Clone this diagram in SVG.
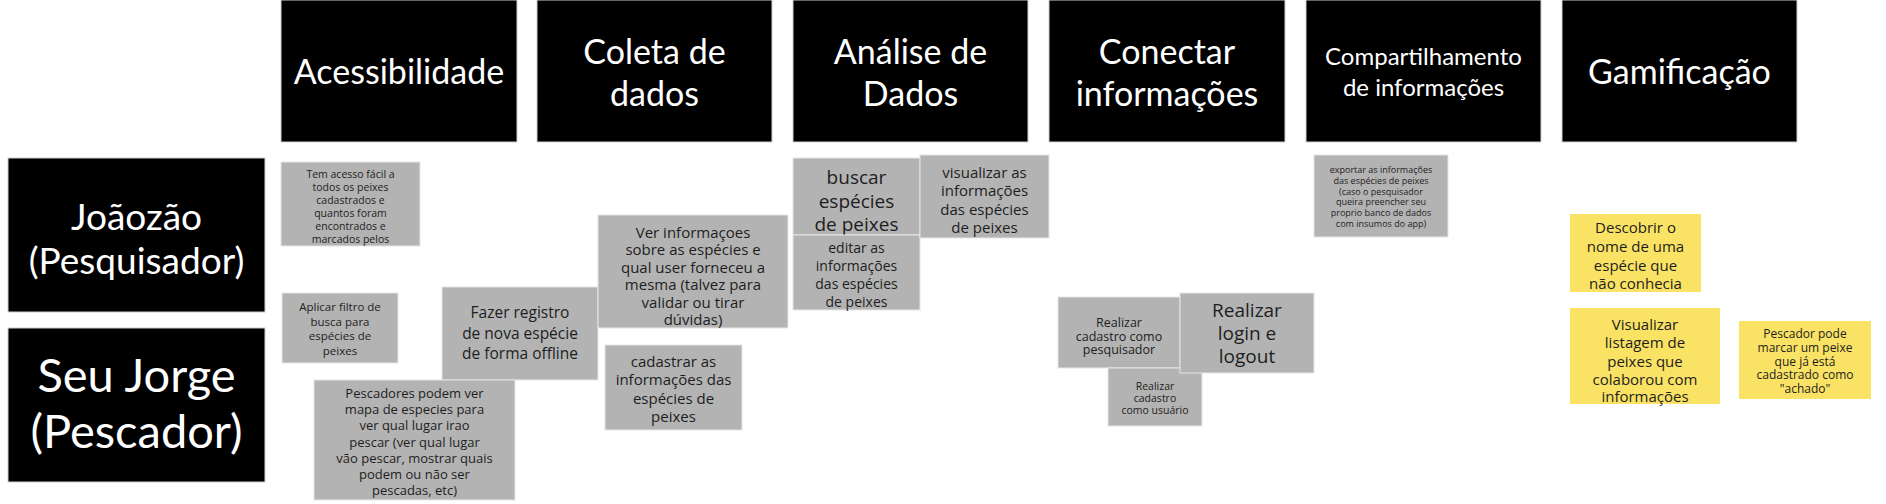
<svg xmlns="http://www.w3.org/2000/svg" width="1886" height="504" viewBox="0 0 1886 504">
<style>
.hdr{fill:#000;stroke:#d0d0d0;stroke-width:1}
.ht{fill:#fff;font-family:Lato,"Open Sans",sans-serif;text-anchor:middle}
.g{fill:#b3b3b3;stroke:#e6e6e6;stroke-width:1}
.y{fill:#f9e264}
.st{fill:#1e1e1e;font-family:"Open Sans","DejaVu Sans",sans-serif;text-anchor:middle}
</style>
<rect width="1886" height="504" fill="#fff"/>
<g id="h-acessibilidade"><rect class="hdr" x="281" y="0" width="236" height="142"/><text class="ht" x="399" y="84" font-size="34">Acessibilidade</text></g>
<g id="h-coleta"><rect class="hdr" x="537" y="0" width="235" height="142"/><text class="ht" x="654.5" y="64" font-size="34">Coleta de</text><text class="ht" x="654.5" y="106" font-size="34">dados</text></g>
<g id="h-analise"><rect class="hdr" x="793" y="0" width="235" height="142"/><text class="ht" x="910.5" y="64" font-size="34">Análise de</text><text class="ht" x="910.5" y="106" font-size="34">Dados</text></g>
<g id="h-conectar"><rect class="hdr" x="1049" y="0" width="236" height="142"/><text class="ht" x="1167" y="64" font-size="34">Conectar</text><text class="ht" x="1167" y="106" font-size="34">informações</text></g>
<g id="h-compartilhamento"><rect class="hdr" x="1306" y="0" width="235" height="142"/><text class="ht" x="1423.5" y="65" font-size="24">Compartilhamento</text><text class="ht" x="1423.5" y="96" font-size="24">de informações</text></g>
<g id="h-gamificacao"><rect class="hdr" x="1562" y="0" width="235" height="142"/><text class="ht" x="1679.5" y="84" font-size="34">Gamificação</text></g>
<g id="r-joaozao"><rect class="hdr" x="8" y="158" width="257" height="154"/><text class="ht" x="136.5" y="230" font-size="37">Joãozão</text><text class="ht" x="136.5" y="274" font-size="37">(Pesquisador)</text></g>
<g id="r-seujorge"><rect class="hdr" x="8" y="328" width="257" height="154"/><text class="ht" x="136.5" y="392" font-size="47">Seu Jorge</text><text class="ht" x="136.5" y="448" font-size="47">(Pescador)</text></g>
<g id="connectors"></g>
<g id="n-tem-acesso"><rect class="g" x="281" y="162" width="139" height="84"/><text class="st" font-size="10.5"><tspan x="350.5" y="178">Tem acesso fácil a</tspan><tspan x="350.5" y="191">todos os peixes</tspan><tspan x="350.5" y="204">cadastrados e</tspan><tspan x="350.5" y="217">quantos foram</tspan><tspan x="350.5" y="230">encontrados e</tspan><tspan x="350.5" y="243">marcados pelos</tspan></text></g>
<g id="n-aplicar-filtro"><rect class="g" x="282" y="293" width="116" height="70"/><text class="st" font-size="11.5"><tspan x="340" y="311">Aplicar filtro de</tspan><tspan x="340" y="325.5">busca para</tspan><tspan x="340" y="340">espécies de</tspan><tspan x="340" y="354.5">peixes</tspan></text></g>
<g id="n-fazer-registro"><rect class="g" x="442" y="287" width="156" height="93"/><text class="st" font-size="15.5"><tspan x="520" y="318">Fazer registro</tspan><tspan x="520" y="338.5">de nova espécie</tspan><tspan x="520" y="359">de forma offline</tspan></text></g>
<g id="n-pescadores"><rect class="g" x="314" y="380" width="201" height="120"/><text class="st" font-size="13"><tspan x="414.5" y="398">Pescadores podem ver</tspan><tspan x="414.5" y="414.2">mapa de especies para</tspan><tspan x="414.5" y="430.4">ver qual lugar irao</tspan><tspan x="414.5" y="446.6">pescar (ver qual lugar</tspan><tspan x="414.5" y="462.8">vão pescar, mostrar quais</tspan><tspan x="414.5" y="479">podem ou não ser</tspan><tspan x="414.5" y="495.2">pescadas, etc)</tspan></text></g>
<g id="n-ver-informacoes"><rect class="g" x="598" y="215" width="190" height="113"/><text class="st" font-size="15"><tspan x="693" y="238">Ver informaçoes</tspan><tspan x="693" y="255.4">sobre as espécies e</tspan><tspan x="693" y="272.8">qual user forneceu a</tspan><tspan x="693" y="290.2">mesma (talvez para</tspan><tspan x="693" y="307.6">validar ou tirar</tspan><tspan x="693" y="325">dúvidas)</tspan></text></g>
<g id="n-cadastrar"><rect class="g" x="605" y="345" width="137" height="85"/><text class="st" font-size="15"><tspan x="673.5" y="367">cadastrar as</tspan><tspan x="673.5" y="385.3">informações das</tspan><tspan x="673.5" y="403.6">espécies de</tspan><tspan x="673.5" y="422">peixes</tspan></text></g>
<g id="n-buscar"><rect class="g" x="793" y="158" width="127" height="77"/><text class="st" font-size="19"><tspan x="856.5" y="184">buscar</tspan><tspan x="856.5" y="207.5">espécies</tspan><tspan x="856.5" y="231">de peixes</tspan></text></g>
<g id="n-editar"><rect class="g" x="793" y="235" width="127" height="75"/><text class="st" font-size="14"><tspan x="856.5" y="253">editar as</tspan><tspan x="856.5" y="271">informações</tspan><tspan x="856.5" y="289">das espécies</tspan><tspan x="856.5" y="307">de peixes</tspan></text></g>
<g id="n-visualizar"><rect class="g" x="920" y="155" width="129" height="83"/><text class="st" font-size="15"><tspan x="984.5" y="178">visualizar as</tspan><tspan x="984.5" y="196.3">informações</tspan><tspan x="984.5" y="214.6">das espécies</tspan><tspan x="984.5" y="233">de peixes</tspan></text></g>
<g id="n-cadastro-pesquisador"><rect class="g" x="1058" y="297" width="122" height="71"/><text class="st" font-size="12.5"><tspan x="1119" y="327">Realizar</tspan><tspan x="1119" y="340.5">cadastro como</tspan><tspan x="1119" y="354">pesquisador</tspan></text></g>
<g id="n-cadastro-usuario"><rect class="g" x="1108" y="368" width="94" height="58"/><text class="st" font-size="10.5"><tspan x="1155" y="390">Realizar</tspan><tspan x="1155" y="402">cadastro</tspan><tspan x="1155" y="414">como usuário</tspan></text></g>
<g id="n-login"><rect class="g" x="1180" y="293" width="134" height="80"/><text class="st" font-size="19"><tspan x="1247" y="317">Realizar</tspan><tspan x="1247" y="340">login e</tspan><tspan x="1247" y="363">logout</tspan></text></g>
<g id="n-exportar"><rect class="g" x="1314" y="155" width="134" height="82"/><text class="st" font-size="9"><tspan x="1381" y="173">exportar as informações</tspan><tspan x="1381" y="183.8">das espécies de peixes</tspan><tspan x="1381" y="194.6">(caso o pesquisador</tspan><tspan x="1381" y="205.4">queira preencher seu</tspan><tspan x="1381" y="216.2">proprio banco de dados</tspan><tspan x="1381" y="227">com insumos do app)</tspan></text></g>
<g id="n-descobrir"><rect class="y" x="1570" y="214" width="131" height="78"/><text class="st" font-size="15"><tspan x="1635.5" y="233">Descobrir o</tspan><tspan x="1635.5" y="252">nome de uma</tspan><tspan x="1635.5" y="271">espécie que</tspan><tspan x="1635.5" y="289">não conhecia</tspan></text></g>
<g id="n-visualizar-listagem"><rect class="y" x="1570" y="308" width="150" height="96"/><text class="st" font-size="15"><tspan x="1645" y="330">Visualizar</tspan><tspan x="1645" y="348">listagem de</tspan><tspan x="1645" y="366.5">peixes que</tspan><tspan x="1645" y="384.5">colaborou com</tspan><tspan x="1645" y="402">informações</tspan></text></g>
<g id="n-pescador-pode"><rect class="y" x="1739" y="321" width="132" height="78"/><text class="st" font-size="12"><tspan x="1805" y="338">Pescador pode</tspan><tspan x="1805" y="351.8">marcar um peixe</tspan><tspan x="1805" y="365.6">que já está</tspan><tspan x="1805" y="379.4">cadastrado como</tspan><tspan x="1805" y="393.2">"achado"</tspan></text></g>
</svg>
